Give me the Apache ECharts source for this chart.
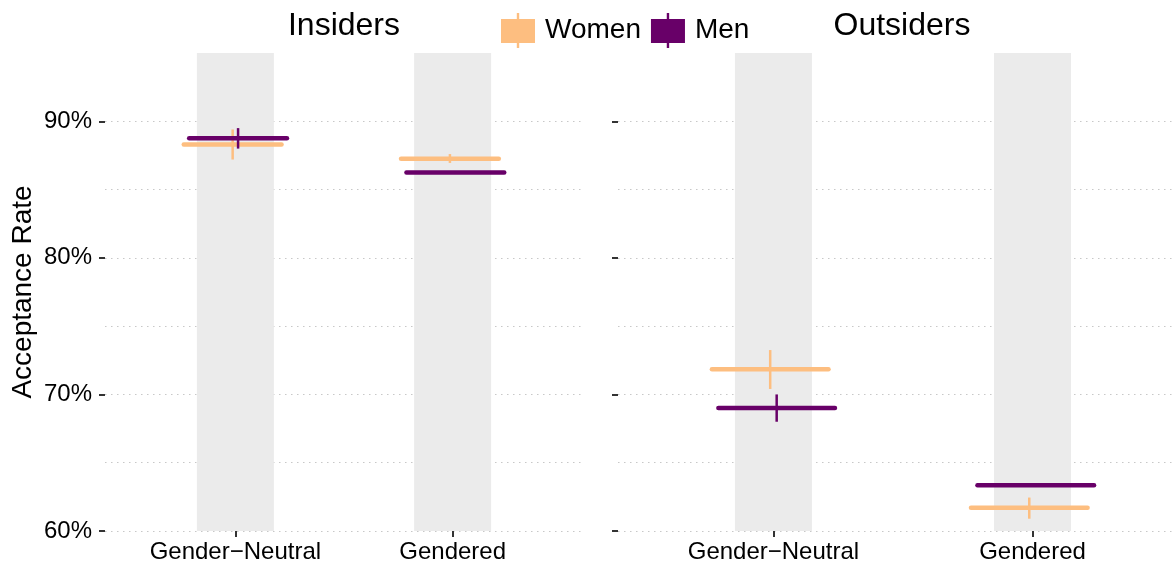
<!DOCTYPE html>
<html>
<head>
<meta charset="utf-8">
<script src="https://cdn.jsdelivr.net/npm/echarts@6/dist/echarts.min.js"></script>
<style>
  html, body { margin: 0; padding: 0; background: #fff; }
  #chart { width: 1175px; height: 564px; }
</style>
</head>
<body>
<div id="chart"></div>
<script>
// categories and panels
var categories = ['Gender\u2212Neutral', 'Gendered'];
var panels = ['Insiders', 'Outsiders'];

// acceptance rate (%) with error bar ends
var insidersWomen   = [88.3, 87.25];
var insidersWomenLo = [87.2, 86.95];
var insidersWomenHi = [89.4, 87.6];
var insidersMen     = [88.75, 86.25];
var insidersMenLo   = [88.0, 86.15];
var insidersMenHi   = [89.5, 86.35];

var outsidersWomen   = [71.85, 61.7];
var outsidersWomenLo = [70.4, 60.9];
var outsidersWomenHi = [73.25, 62.45];
var outsidersMen     = [69.0, 63.35];
var outsidersMenLo   = [68.0, 63.25];
var outsidersMenHi   = [70.0, 63.45];

var yTicks = [60, 70, 80, 90];

var WOMEN = '#fdbe80';
var MEN = '#680068';
var FONT = 'Liberation Sans, Arial, sans-serif';

function rows(v, lo, hi) {
    return categories.map(function (c, i) { return [i, v[i], lo[i], hi[i]]; });
}

// horizontal bar + vertical error bar
function markRenderer(color, dodge) {
    return function (params, api) {
        var x = api.value(0) + dodge, v = api.value(1);
        var a = api.coord([x - 0.225, v]);
        var b = api.coord([x + 0.225, v]);
        var t = api.coord([x, api.value(3)]);
        var u = api.coord([x, api.value(2)]);
        return {
            type: 'group',
            children: [{
                type: 'line',
                shape: { x1: a[0], y1: a[1], x2: b[0], y2: b[1] },
                style: { stroke: color, lineWidth: 4.5, lineCap: 'round' }
            }, {
                type: 'line',
                shape: { x1: t[0], y1: t[1], x2: u[0], y2: u[1] },
                style: { stroke: color, lineWidth: 2.5 }
            }]
        };
    };
}

// grey band behind each category (fixed pixel width)
function bandRenderer(params, api) {
    var cs = params.coordSys;
    var c = api.coord([api.value(0), 60]);
    return {
        type: 'rect',
        shape: { x: c[0] - 38.5, y: cs.y, width: 77, height: cs.height },
        style: { fill: '#ebebeb' }
    };
}

var hidden = { show: true, onZero: false, lineStyle: { color: 'rgba(0,0,0,0)' } };

function xAxis(idx, max) {
    return {
        type: 'value', gridIndex: idx, min: -0.6, max: max,
        axisLine: hidden,
        splitLine: { show: false },
        axisTick: { show: true, customValues: [0, 1], length: 6, lineStyle: { color: '#333', width: 2 } },
        axisLabel: {
            customValues: [0, 1], margin: 9,
            formatter: function (v) { return categories[Math.round(v)]; },
            color: '#000', fontSize: 24, fontFamily: FONT
        }
    };
}

// labelled axis: ticks every 10
function yAxis(idx, labels) {
    return {
        type: 'value', gridIndex: idx, min: 60, max: 95, interval: 10,
        name: labels ? 'Acceptance Rate' : '',
        nameLocation: 'middle', nameGap: 68, nameRotate: 90,
        nameTextStyle: { color: '#000', fontSize: 28, fontFamily: FONT },
        axisLine: hidden,
        axisTick: { show: true, customValues: yTicks, length: 6, lineStyle: { color: '#333', width: 2 } },
        axisLabel: {
            show: labels, margin: 13, customValues: yTicks,
            formatter: function (v) { return v + '%'; },
            color: '#000', fontSize: 24, fontFamily: FONT
        },
        splitLine: { show: false }
    };
}

// grid-line axis: dotted lines every 5
function yGridAxis(idx) {
    return {
        type: 'value', gridIndex: idx, min: 60, max: 95, interval: 5,
        axisLine: { show: false }, axisTick: { show: false }, axisLabel: { show: false },
        splitLine: { show: true, showMaxLine: false, lineStyle: { color: '#c8c8c8', width: 1.2, type: [1.5, 4.5] } }
    };
}

var legendIcon = 'path://M0,6 L34,6 L34,30 L0,30 Z M15.8,0 L18.2,0 L18.2,35 L15.8,35 Z';

var option = {
    backgroundColor: '#fff',
    animation: false,
    textStyle: { fontFamily: FONT },
    legend: {
        left: 501, top: 13, padding: 0,
        itemWidth: 34, itemHeight: 35, itemGap: 10,
        icon: legendIcon,
        textStyle: { fontSize: 28, color: '#000', fontFamily: FONT, padding: [0, 0, 0, 5] },
        data: [
            { name: 'Women', itemStyle: { color: WOMEN, borderWidth: 0 } },
            { name: 'Men', itemStyle: { color: MEN, borderWidth: 0 } }
        ]
    },
    graphic: [
        { type: 'text', x: 344, y: 26, style: { text: panels[0], font: '32px ' + FONT, fill: '#000', align: 'center', verticalAlign: 'middle' } },
        { type: 'text', x: 902, y: 26, style: { text: panels[1], font: '32px ' + FONT, fill: '#000', align: 'center', verticalAlign: 'middle' } }
    ],
    grid: [
        { left: 105, top: 53, width: 478, height: 478 },
        { left: 618, top: 53, right: 0, height: 478 }
    ],
    xAxis: [xAxis(0, 1.6), xAxis(1, 1.55)],
    yAxis: [yAxis(0, true), yAxis(1, false), yGridAxis(0), yGridAxis(1)],
    series: [
        { type: 'custom', name: 'band', xAxisIndex: 0, yAxisIndex: 0, z: 1, silent: true,
          renderItem: bandRenderer, data: categories.map(function (c, i) { return [i]; }) },
        { type: 'custom', name: 'band', xAxisIndex: 1, yAxisIndex: 1, z: 1, silent: true,
          renderItem: bandRenderer, data: categories.map(function (c, i) { return [i]; }) },
        { type: 'custom', name: 'Women', xAxisIndex: 0, yAxisIndex: 0, z: 2, itemStyle: { color: WOMEN },
          renderItem: markRenderer(WOMEN, -0.0125), data: rows(insidersWomen, insidersWomenLo, insidersWomenHi) },
        { type: 'custom', name: 'Women', xAxisIndex: 1, yAxisIndex: 1, z: 2, itemStyle: { color: WOMEN },
          renderItem: markRenderer(WOMEN, -0.0125), data: rows(outsidersWomen, outsidersWomenLo, outsidersWomenHi) },
        { type: 'custom', name: 'Men', xAxisIndex: 0, yAxisIndex: 0, z: 3, itemStyle: { color: MEN },
          renderItem: markRenderer(MEN, 0.0125), data: rows(insidersMen, insidersMenLo, insidersMenHi) },
        { type: 'custom', name: 'Men', xAxisIndex: 1, yAxisIndex: 1, z: 3, itemStyle: { color: MEN },
          renderItem: markRenderer(MEN, 0.0125), data: rows(outsidersMen, outsidersMenLo, outsidersMenHi) }
    ]
};

var myChart = echarts.init(document.getElementById('chart'));
myChart.setOption(option);
</script>
</body>
</html>
